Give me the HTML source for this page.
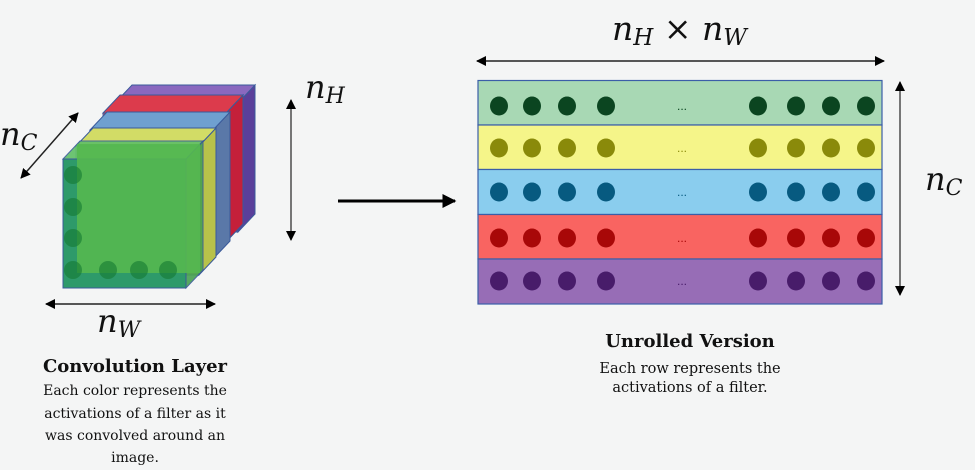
<!DOCTYPE html>
<html><head><meta charset="utf-8"><style>
html,body{margin:0;padding:0;background:#f4f5f5;}
svg{display:block;}
.m{font-family:"DejaVu Serif","Liberation Serif",serif;font-style:italic;fill:#111;}
.t{font-family:"DejaVu Serif","Liberation Serif",serif;fill:#111;}
</style></head><body>
<svg width="975" height="470" viewBox="0 0 975 470" xmlns="http://www.w3.org/2000/svg">
<defs>
<marker id="a" viewBox="0 0 10 10" refX="9" refY="5" markerWidth="10" markerHeight="10" markerUnits="userSpaceOnUse" orient="auto-start-reverse"><path d="M0,0 L10,5 L0,10 z" fill="#000"/></marker>
<marker id="b" viewBox="0 0 10 10" refX="9" refY="5" markerWidth="14" markerHeight="14" markerUnits="userSpaceOnUse" orient="auto"><path d="M0,0 L10,5 L0,10 z" fill="#000"/></marker>
</defs>
<rect width="975" height="470" fill="#f4f5f5"/>

<g stroke="#3a5a9a" stroke-width="1">
 <g transform="translate(52,-56)">
  <polygon points="186,159 203,141 203,270 186,288" fill="#5a3f9a"/>
  <polygon points="63,159 80,141 203,141 186,159" fill="#8a68bf"/>
  <rect x="63" y="159" width="123" height="129" fill="#7a5cae"/>
 </g>
 <g transform="translate(40,-46)">
  <polygon points="186,159 203,141 203,270 186,288" fill="#c4203a"/>
  <polygon points="63,159 80,141 203,141 186,159" fill="#dc3b4c"/>
  <rect x="63" y="159" width="123" height="129" fill="#d8344a" opacity="0.9"/>
 </g>
 <g transform="translate(27,-29)">
  <polygon points="186,159 203,141 203,270 186,288" fill="#5a78a8"/>
  <polygon points="63,159 80,141 203,141 186,159" fill="#6fa0d0"/>
  <rect x="63" y="159" width="123" height="129" fill="#5d93c8" opacity="0.85"/>
 </g>
 <g transform="translate(13,-13)">
  <polygon points="186,159 203,141 203,270 186,288" fill="#b8c24a"/>
  <polygon points="63,159 80,141 203,141 186,159" fill="#d2dc66"/>
  <rect x="63" y="159" width="123" height="129" fill="#c8d45a" opacity="0.85"/>
 </g>
 <g>
  <polygon points="186,159 203,141 203,270 186,288" fill="#47a050" opacity="0.9"/>
  <polygon points="63,159 80,141 203,141 186,159" fill="#5fbf66" opacity="0.9"/>
  <rect x="63" y="159" width="123" height="129" fill="#2e9a6a"/>
  <rect x="77" y="144" width="123" height="129" fill="#55b850" opacity="0.9" stroke="none"/>
 </g>
</g>
<g fill="#157a32" opacity="0.6">
 <circle cx="73" cy="175" r="9"/><circle cx="73" cy="207" r="9"/><circle cx="73" cy="238" r="9"/><circle cx="73" cy="270" r="9"/>
 <circle cx="108" cy="270" r="9"/><circle cx="139" cy="270" r="9"/><circle cx="168" cy="270" r="9"/>
</g>

<line x1="291" y1="100" x2="291" y2="240" stroke="#222" stroke-width="1.2" marker-start="url(#a)" marker-end="url(#a)"/>
<line x1="21" y1="178" x2="78" y2="113" stroke="#222" stroke-width="1.5" marker-start="url(#a)" marker-end="url(#a)"/>
<line x1="46" y1="304" x2="215" y2="304" stroke="#222" stroke-width="1.5" marker-start="url(#a)" marker-end="url(#a)"/>
<line x1="338" y1="201" x2="455" y2="201" stroke="#000" stroke-width="3" marker-end="url(#b)"/>

<text class="m" x="305" y="98" font-size="32">n<tspan font-size="22" dy="5">H</tspan></text>
<text class="m" x="0" y="145" font-size="32">n<tspan font-size="22" dy="5">C</tspan></text>
<text class="m" x="97" y="332" font-size="32">n<tspan font-size="22" dy="5">W</tspan></text>
<text class="m" x="612" y="40" font-size="33">n<tspan font-size="23" dy="5">H</tspan><tspan dy="-5" font-style="normal"> × </tspan>n<tspan font-size="23" dy="5">W</tspan></text>
<text class="m" x="925" y="190" font-size="32">n<tspan font-size="22" dy="5">C</tspan></text>

<line x1="477" y1="61" x2="884" y2="61" stroke="#222" stroke-width="1.5" marker-start="url(#a)" marker-end="url(#a)"/>
<line x1="900" y1="82" x2="900" y2="295" stroke="#222" stroke-width="1.2" marker-start="url(#a)" marker-end="url(#a)"/>

<g stroke="#3b5ea8" stroke-width="1.2">
 <rect x="478" y="80.5" width="404" height="44.5" fill="#a8d8b4"/>
 <rect x="478" y="125" width="404" height="44.5" fill="#f5f589"/>
 <rect x="478" y="169.5" width="404" height="45" fill="#8acdee"/>
 <rect x="478" y="214.5" width="404" height="44.5" fill="#f96461"/>
 <rect x="478" y="259" width="404" height="45" fill="#976db6"/>
</g>
<g fill="#0b4520">
 <ellipse cx="499" cy="106" rx="9" ry="9.5"/><ellipse cx="532" cy="106" rx="9" ry="9.5"/><ellipse cx="567" cy="106" rx="9" ry="9.5"/><ellipse cx="606" cy="106" rx="9" ry="9.5"/>
 <ellipse cx="758" cy="106" rx="9" ry="9.5"/><ellipse cx="796" cy="106" rx="9" ry="9.5"/><ellipse cx="831" cy="106" rx="9" ry="9.5"/><ellipse cx="866" cy="106" rx="9" ry="9.5"/>
 <text x="682" y="110" font-size="12" text-anchor="middle" font-family="Liberation Sans,sans-serif">...</text>
</g>
<g fill="#8a8a0a">
 <ellipse cx="499" cy="148" rx="9" ry="9.5"/><ellipse cx="532" cy="148" rx="9" ry="9.5"/><ellipse cx="567" cy="148" rx="9" ry="9.5"/><ellipse cx="606" cy="148" rx="9" ry="9.5"/>
 <ellipse cx="758" cy="148" rx="9" ry="9.5"/><ellipse cx="796" cy="148" rx="9" ry="9.5"/><ellipse cx="831" cy="148" rx="9" ry="9.5"/><ellipse cx="866" cy="148" rx="9" ry="9.5"/>
 <text x="682" y="152" font-size="12" text-anchor="middle" font-family="Liberation Sans,sans-serif">...</text>
</g>
<g fill="#075a80">
 <ellipse cx="499" cy="192" rx="9" ry="9.5"/><ellipse cx="532" cy="192" rx="9" ry="9.5"/><ellipse cx="567" cy="192" rx="9" ry="9.5"/><ellipse cx="606" cy="192" rx="9" ry="9.5"/>
 <ellipse cx="758" cy="192" rx="9" ry="9.5"/><ellipse cx="796" cy="192" rx="9" ry="9.5"/><ellipse cx="831" cy="192" rx="9" ry="9.5"/><ellipse cx="866" cy="192" rx="9" ry="9.5"/>
 <text x="682" y="196" font-size="12" text-anchor="middle" font-family="Liberation Sans,sans-serif">...</text>
</g>
<g fill="#a80808">
 <ellipse cx="499" cy="238" rx="9" ry="9.5"/><ellipse cx="532" cy="238" rx="9" ry="9.5"/><ellipse cx="567" cy="238" rx="9" ry="9.5"/><ellipse cx="606" cy="238" rx="9" ry="9.5"/>
 <ellipse cx="758" cy="238" rx="9" ry="9.5"/><ellipse cx="796" cy="238" rx="9" ry="9.5"/><ellipse cx="831" cy="238" rx="9" ry="9.5"/><ellipse cx="866" cy="238" rx="9" ry="9.5"/>
 <text x="682" y="242" font-size="12" text-anchor="middle" font-family="Liberation Sans,sans-serif">...</text>
</g>
<g fill="#481c6a">
 <ellipse cx="499" cy="281" rx="9" ry="9.5"/><ellipse cx="532" cy="281" rx="9" ry="9.5"/><ellipse cx="567" cy="281" rx="9" ry="9.5"/><ellipse cx="606" cy="281" rx="9" ry="9.5"/>
 <ellipse cx="758" cy="281" rx="9" ry="9.5"/><ellipse cx="796" cy="281" rx="9" ry="9.5"/><ellipse cx="831" cy="281" rx="9" ry="9.5"/><ellipse cx="866" cy="281" rx="9" ry="9.5"/>
 <text x="682" y="285" font-size="12" text-anchor="middle" font-family="Liberation Sans,sans-serif">...</text>
</g>

<g class="t" text-anchor="middle">
 <text x="135" y="372" font-size="18" font-weight="bold">Convolution Layer</text>
 <text x="135" y="395" font-size="14">Each color represents the</text>
 <text x="135" y="418" font-size="14">activations of a filter as it</text>
 <text x="135" y="440" font-size="14">was convolved around an</text>
 <text x="135" y="462" font-size="14">image.</text>
 <text x="690" y="347" font-size="18" font-weight="bold">Unrolled Version</text>
 <text x="690" y="373" font-size="14.5">Each row represents the</text>
 <text x="690" y="392" font-size="14.5">activations of a filter.</text>
</g>
</svg>
</body></html>
